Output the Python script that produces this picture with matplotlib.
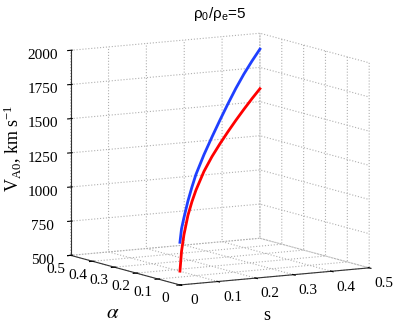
import numpy as np
import matplotlib
matplotlib.use('Agg')
import matplotlib.pyplot as plt

# position along the curve (0 = front corner, 1 = back corner), s = alpha
t = [0, 0.02, 0.05, 0.1, 0.15, 0.2, 0.3, 0.4, 0.5, 0.6, 0.7, 0.8, 0.9, 1.0]
s_vals = [v * 0.5 for v in t]
alpha_vals = [v * 0.5 for v in t]
va0_blue = [812, 905, 975, 1080, 1165, 1240, 1350, 1445, 1535, 1620, 1700, 1770, 1830, 1884]
va0_red = [601, 740, 850, 975, 1058, 1125, 1228, 1302, 1362, 1416, 1466, 1512, 1555, 1594]

s_ticks = [0, 0.1, 0.2, 0.3, 0.4, 0.5]
a_ticks = [0, 0.1, 0.2, 0.3, 0.4, 0.5]
tick_labels = ['0', '0.1', '0.2', '0.3', '0.4', '0.5']
z_ticks = [500, 750, 1000, 1250, 1500, 1750, 2000]

plt.rcParams['font.family'] = 'Liberation Serif'
plt.rcParams['mathtext.fontset'] = 'stix'
plt.rcParams['grid.linestyle'] = ':'
plt.rcParams['grid.color'] = '#b0b0b0'
plt.rcParams['grid.linewidth'] = 0.8

fig = plt.figure(figsize=(4.09, 3.25), dpi=100)
ax = fig.add_axes([0.027, -0.003, 1.0, 1.0], projection='3d', proj_type='ortho')
ax.view_init(elev=9, azim=-120)
ax.set_box_aspect((1, 1, 0.95), zoom=1.112)

ax.plot(s_vals, alpha_vals, va0_blue, color='#1f3fff', lw=2)
ax.plot(s_vals, alpha_vals, va0_red, color='#ff0000', lw=2)

ax.set_xlim(0, 0.5)
ax.set_ylim(0, 0.5)
ax.set_zlim(500, 2000)
ax.set_xticks(s_ticks)
ax.set_yticks(a_ticks)
ax.set_zticks(z_ticks)
ax.set_zticklabels([str(z) for z in z_ticks], fontsize=11)
ax.xaxis.set_tick_params(labelbottom=False)
ax.yaxis.set_tick_params(labelbottom=False)

# MATLAB-like tick label placement for the floor axes
for v, lab in zip(s_ticks, tick_labels):
    ax.text(v, -0.067, 413, lab, fontsize=11, ha='center', va='center')
for v, lab in zip(a_ticks, tick_labels):
    ax.text(-0.04, v, 409, lab, fontsize=11, ha='center', va='center')

for axis in (ax.xaxis, ax.yaxis, ax.zaxis):
    axis.set_pane_color((1, 1, 1, 0))
    axis.pane.set_edgecolor('none')
    axis.line.set_color('#333333')
    axis.line.set_linewidth(0.8)
    axis.label.set_visible(False)
    axis.offsetText.set_visible(False)

fig.text(267 / 409, 1 - 315 / 325, 's', fontsize=13, ha='center', va='center')
fig.text(113 / 409, 1 - 314 / 325, r'$\alpha$', fontsize=15, ha='center', va='center')
fig.text(13 / 409, 1 - 148 / 325, r'$\mathregular{V_{A0}}$, km s$\mathregular{^{-1}}$',
         fontsize=13, rotation=90, ha='center', va='center')
fig.text(220 / 409, 1 - 14 / 325, r'$\mathregular{\rho_0/\rho_e}$=5', fontsize=11,
         family='Liberation Sans', ha='center', va='center')

fig.savefig('out.png', dpi=100)
